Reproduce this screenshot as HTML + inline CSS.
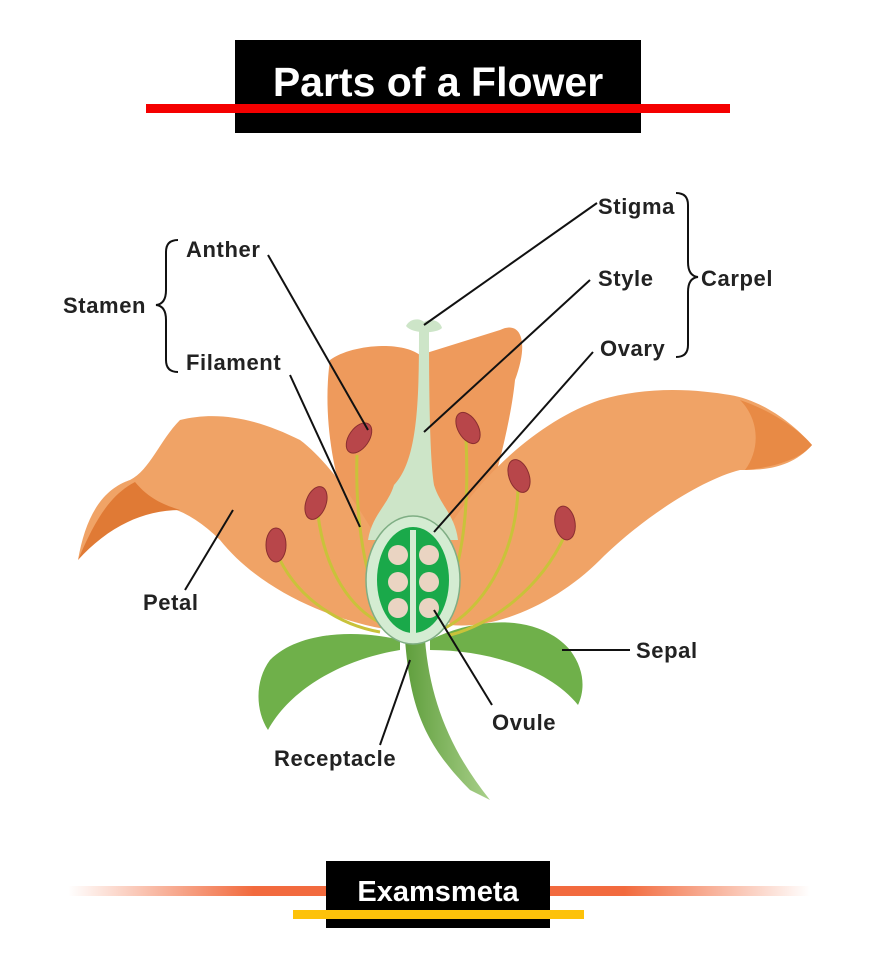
<!DOCTYPE html>
<html><head><meta charset="utf-8"><style>
html,body{margin:0;padding:0;background:#fff;}
body{width:876px;height:966px;position:relative;overflow:hidden;font-family:"Liberation Sans",sans-serif;}
</style></head><body>
<svg width="876" height="966" viewBox="0 0 876 966" xmlns="http://www.w3.org/2000/svg" style="position:absolute;left:0;top:0">
<defs>
<linearGradient id="og" x1="0" x2="1">
<stop offset="0" stop-color="#f05a28" stop-opacity="0"/>
<stop offset="0.25" stop-color="#f05a28" stop-opacity="0.9"/>
<stop offset="0.75" stop-color="#f05a28" stop-opacity="0.9"/>
<stop offset="1" stop-color="#f05a28" stop-opacity="0"/>
</linearGradient>
<linearGradient id="stem" x1="0" x2="1"><stop offset="0" stop-color="#5f9e3c"/><stop offset="1" stop-color="#a9d08a"/></linearGradient>
</defs>
<!-- Title -->
<rect x="235" y="40" width="406" height="93" fill="#000"/>
<rect x="146" y="104" width="584" height="9" fill="#f50000"/>
<text x="438" y="96" text-anchor="middle" font-size="41" font-weight="bold" fill="#fff" font-family="Liberation Sans, sans-serif">Parts of a Flower</text>

<!-- stem -->
<path d="M405 640 C410 700 420 740 470 790 L490 800 C450 750 430 700 425 640 Z" fill="url(#stem)"/>
<!-- back petals -->
<path d="M330 360 C350 345 400 340 420 355 L500 330 C520 320 530 340 515 380 C510 430 490 500 470 560 L380 580 C340 520 320 430 330 360 Z" fill="#ee9a5c"/>
<path d="M430 560 C470 480 540 420 600 400 C650 385 700 390 730 395 C760 400 790 420 812 445 C790 470 760 470 740 470 C700 480 640 520 600 560 C560 600 500 630 450 625 Z" fill="#f0a366"/>
<path d="M740 400 C770 410 800 430 812 445 C800 460 770 468 745 470 C760 450 760 420 740 400Z" fill="#e88a45"/>
<path d="M390 630 C330 620 260 590 220 540 C190 510 160 500 130 505 C110 520 90 540 78 560 C85 520 100 490 130 480 C150 470 160 440 180 420 C220 410 260 420 300 440 C340 470 380 540 410 600 Z" fill="#f0a366"/>
<path d="M78 560 C95 520 110 495 135 482 C150 500 165 505 180 510 C140 510 105 530 78 560Z" fill="#e07a35"/>
<!-- sepals -->
<path d="M400 640 C360 630 300 630 270 660 C255 680 255 710 268 730 C290 690 340 660 400 650 Z" fill="#6fb04a"/>
<path d="M430 640 C480 615 540 615 570 650 C585 670 585 690 578 705 C550 670 490 650 430 650 Z" fill="#6fb04a"/>
<!-- filaments -->
<g stroke="#c9c23a" stroke-width="3" fill="none">
<path d="M357 455 C355 520 365 580 385 620"/>
<path d="M318 515 C325 570 350 610 385 625"/>
<path d="M280 560 C300 600 340 625 380 632"/>
<path d="M466 440 C470 520 460 570 440 620"/>
<path d="M518 490 C515 560 480 610 445 628"/>
<path d="M565 535 C540 590 490 625 450 635"/>
</g>
<!-- anthers -->
<g fill="#b8464a" stroke="#8a2e30" stroke-width="1">
<ellipse cx="359" cy="438" rx="10" ry="17" transform="rotate(35 359 438)"/>
<ellipse cx="316" cy="503" rx="10" ry="17" transform="rotate(20 316 503)"/>
<ellipse cx="276" cy="545" rx="10" ry="17"/>
<ellipse cx="468" cy="428" rx="10" ry="17" transform="rotate(-30 468 428)"/>
<ellipse cx="519" cy="476" rx="10" ry="17" transform="rotate(-20 519 476)"/>
<ellipse cx="565" cy="523" rx="10" ry="17" transform="rotate(-10 565 523)"/>
</g>
<!-- style -->
<path d="M419 330 L429 330 C429 400 430 460 434 485 C440 505 455 515 458 540 L368 540 C372 515 388 505 394 485 C418 460 419 400 419 330Z" fill="#cde5c8"/>
<path d="M406 326 C410 318 420 318 424 322 C430 318 440 320 442 328 C436 334 412 334 406 326Z" fill="#cde5c8"/>
<!-- ovary -->
<ellipse cx="413" cy="580" rx="47" ry="64" fill="#d4ecd2" stroke="#7fae84" stroke-width="1.5"/>
<ellipse cx="413" cy="580" rx="36" ry="53" fill="#1aa94a"/>
<rect x="410" y="530" width="6" height="104" fill="#d4ecd2"/>
<g fill="#ead4c2">
<circle cx="398" cy="555" r="10"/><circle cx="429" cy="555" r="10"/>
<circle cx="398" cy="582" r="10"/><circle cx="429" cy="582" r="10"/>
<circle cx="398" cy="608" r="10"/><circle cx="429" cy="608" r="10"/>
</g>
<!-- leader lines -->
<g stroke="#111" stroke-width="2" fill="none">
<line x1="268" y1="255" x2="368" y2="430"/>
<line x1="290" y1="375" x2="360" y2="527"/>
<line x1="597" y1="203" x2="424" y2="325"/>
<line x1="590" y1="280" x2="424" y2="432"/>
<line x1="593" y1="352" x2="434" y2="532"/>
<line x1="233" y1="510" x2="185" y2="590"/>
<line x1="410" y1="660" x2="380" y2="745"/>
<line x1="434" y1="610" x2="492" y2="705"/>
<line x1="562" y1="650" x2="630" y2="650"/>
<path d="M178 240 Q166 240 166 252 L166 290 Q166 304 156 305 Q166 306 166 320 L166 360 Q166 372 178 372"/>
<path d="M676 193 Q688 193 688 205 L688 262 Q688 276 698 277 Q688 278 688 292 L688 345 Q688 357 676 357"/>
</g>
<g font-family="Liberation Sans, sans-serif" font-weight="bold" font-size="22" fill="#222" letter-spacing="0.6">
<text x="186" y="257">Anther</text>
<text x="63" y="313">Stamen</text>
<text x="186" y="370">Filament</text>
<text x="598" y="214">Stigma</text>
<text x="598" y="286">Style</text>
<text x="701" y="286">Carpel</text>
<text x="600" y="356">Ovary</text>
<text x="143" y="610">Petal</text>
<text x="636" y="658">Sepal</text>
<text x="492" y="730">Ovule</text>
<text x="274" y="766">Receptacle</text>
</g>
<!-- footer -->
<rect x="68" y="886" width="742" height="10" fill="url(#og)"/>
<rect x="326" y="861" width="224" height="67" fill="#000"/>
<rect x="293" y="910" width="291" height="9" fill="#fdc20a"/>
<text x="438" y="901" text-anchor="middle" font-size="29" font-weight="bold" fill="#fff" font-family="Liberation Sans, sans-serif">Examsmeta</text>
</svg>
</body></html>
